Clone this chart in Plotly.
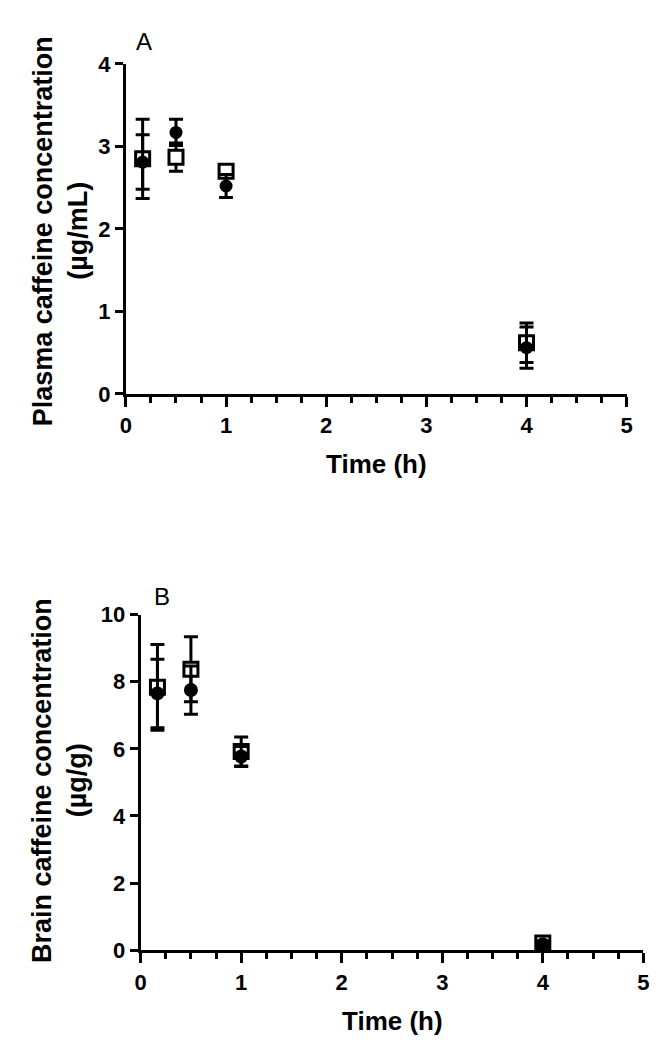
import plotly.graph_objects as go

# ---- data ----
time_h = [0.167, 0.5, 1, 4]

plasma_circle_mean = [2.81, 3.17, 2.52, 0.56]
plasma_circle_err = [0.33, 0.16, 0.14, 0.25]
plasma_square_mean = [2.85, 2.87, 2.70, 0.62]
plasma_square_err = [0.48, 0.17, 0.07, 0.24]

brain_circle_mean = [7.65, 7.75, 5.77, 0.18]
brain_circle_err = [1.02, 0.72, 0.30, 0.04]
brain_square_mean = [7.83, 8.37, 5.92, 0.22]
brain_square_err = [1.28, 0.97, 0.43, 0.05]

x_ticks = [0, 1, 2, 3, 4, 5]
plasma_y_ticks = [0, 1, 2, 3, 4]
brain_y_ticks = [0, 2, 4, 6, 8, 10]

W, H = 660, 1050
FONT = "Liberation Sans, Arial, sans-serif"


def px_x(p):
    return p / W


def px_y(p):
    return 1 - p / H


fig = go.Figure()


def add_series(mean, err, xa, ya, square, msize):
    if square:
        marker = dict(symbol="square", size=msize, color="white",
                      line=dict(color="black", width=3))
    else:
        marker = dict(symbol="circle", size=msize, color="black",
                      line=dict(color="black", width=0))
    fig.add_trace(go.Scatter(
        x=time_h, y=mean, mode="markers", xaxis=xa, yaxis=ya,
        marker=marker, cliponaxis=False, showlegend=False,
        error_y=dict(type="data", array=err, visible=True,
                     color="black", thickness=3, width=7),
    ))


# squares first, circles on top
add_series(plasma_square_mean, plasma_square_err, "x", "y", True, 14)
add_series(plasma_circle_mean, plasma_circle_err, "x", "y", False, 13)
add_series(brain_square_mean, brain_square_err, "x2", "y2", True, 14)
add_series(brain_circle_mean, brain_circle_err, "x2", "y2", False, 14)

axis_common = dict(
    showgrid=False, zeroline=False, showline=True, linecolor="black",
    linewidth=3, ticks="outside", tickcolor="black", tickwidth=3,
    tickfont=dict(family=FONT, size=22, color="black", weight="bold"),
)

xa_common = dict(axis_common, range=[0, 5], tickvals=x_ticks, ticklen=10,
                 minor=dict(dtick=0.25, tick0=0, ticks="outside", ticklen=6,
                            tickwidth=3, tickcolor="black", showgrid=False))

fig.update_layout(
    width=W, height=H,
    margin=dict(l=0, r=0, t=0, b=0),
    paper_bgcolor="white", plot_bgcolor="white",
    xaxis=dict(xa_common, domain=[px_x(114), px_x(624)], anchor="y"),
    yaxis=dict(axis_common, range=[0, 4], tickvals=plasma_y_ticks, ticklen=8,
               domain=[px_y(383), px_y(45)], anchor="x"),
    xaxis2=dict(xa_common, domain=[px_x(129), px_x(641)], anchor="y2"),
    yaxis2=dict(axis_common, range=[0, 10], tickvals=brain_y_ticks, ticklen=8,
                domain=[px_y(953), px_y(609)], anchor="x2"),
)


def ann(text, x, y, size, bold=True, angle=0):
    fig.add_annotation(
        text=text, x=px_x(x), y=px_y(y), xref="paper", yref="paper",
        xanchor="center", yanchor="middle", showarrow=False, textangle=angle,
        font=dict(family=FONT, size=size, color="black",
                  weight="bold" if bold else "normal"),
    )


# panel letters
ann("A", 132, 22, 24, bold=False)
ann("B", 151, 591, 24, bold=False)

# x titles
ann("Time (h)", 369, 455, 26)
ann("Time (h)", 385, 1025, 26)

# y titles (two lines each)
ann("Plasma caffeine concentration", 29, 216, 27, angle=-90)
ann("(µg/mL)", 65, 216, 27, angle=-90)
ann("Brain caffeine concentration", 29, 779, 27, angle=-90)
ann("(µg/g)", 65, 779, 27, angle=-90)

fig.write_html("out.html")
